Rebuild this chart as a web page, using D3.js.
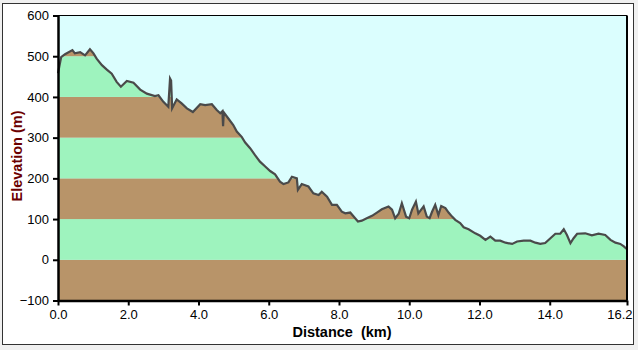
<!DOCTYPE html>
<html><head><meta charset="utf-8">
<script src="https://cdn.jsdelivr.net/npm/d3@7"></script>
<style>body{margin:0;background:#f0f0f0;}svg{display:block;font-family:"Liberation Sans",Arial,sans-serif;}</style>
</head><body>
<svg id="c" width="638" height="350"></svg>
<script>
const distance = [0.00,0.09,0.20,0.41,0.48,0.63,0.77,0.91,1.01,1.10,1.25,1.39,1.53,1.67,1.79,1.96,2.15,2.34,2.53,2.76,2.86,3.00,3.14,3.19,3.22,3.25,3.38,3.52,3.67,3.84,4.05,4.19,4.38,4.52,4.62,4.68,4.70,4.72,4.85,4.99,5.09,5.23,5.33,5.47,5.61,5.75,5.90,6.04,6.18,6.32,6.42,6.56,6.66,6.80,6.83,6.94,7.13,7.27,7.42,7.51,7.66,7.80,7.94,8.08,8.18,8.32,8.46,8.54,8.65,8.79,8.94,9.08,9.22,9.41,9.51,9.60,9.70,9.79,9.91,10.00,10.08,10.19,10.26,10.41,10.50,10.58,10.65,10.74,10.83,10.91,11.03,11.12,11.22,11.31,11.45,11.55,11.69,11.88,12.02,12.17,12.31,12.45,12.59,12.74,12.93,13.07,13.26,13.45,13.59,13.73,13.87,14.02,14.16,14.30,14.40,14.49,14.59,14.68,14.78,15.01,15.20,15.39,15.58,15.73,15.87,16.01,16.11,16.20];
const elevation = [458,498,505,515,507,510,502,517,507,494,478,467,457,437,425,439,435,418,408,402,404,388,376,445,440,372,394,384,372,363,382,380,382,368,360,365,328,362,347,331,315,302,288,274,257,241,229,218,210,192,186,190,204,200,172,186,180,163,159,167,155,135,135,118,114,116,102,94,96,102,108,116,124,131,123,102,113,139,106,102,123,143,114,131,106,102,118,135,110,132,127,116,106,98,90,80,75,65,59,49,57,47,47,42,39,45,47,47,42,39,41,53,64,64,75,61,41,53,64,65,60,64,61,49,42,39,33,26];
const xTicks = [0,2,4,6,8,10,12,14,16.2];
const yTicks = [-100,0,100,200,300,400,500,600];
const bands = [-100,0,100,200,300,400,500];

const svg = d3.select("#c");
svg.append("rect").attr("x",2.5).attr("y",3.5).attr("width",631).attr("height",341)
  .attr("fill","#fff").attr("stroke","#333").attr("stroke-width",1);

const L=58,R=627,T=15.5,B=300.5;
const x = d3.scaleLinear().domain([0,16.2]).range([L,R]);
const y = d3.scaleLinear().domain([-100,600]).range([B,T]);

svg.append("rect").attr("x",L).attr("y",T).attr("width",R-L).attr("height",B-T).attr("fill","#dbfefe");

const pts = distance.map((d,i)=>[d,elevation[i]]);
const area = d3.area().x(d=>x(d[0])).y0(y(-100)).y1(d=>y(d[1]));
svg.append("clipPath").attr("id","cp").append("path").attr("d",area(pts));
svg.append("g").attr("clip-path","url(#cp)").selectAll("rect").data(bands).join("rect")
  .attr("x",L).attr("width",R-L).attr("y",d=>y(d+100)).attr("height",d=>y(d)-y(d+100))
  .attr("fill",(d,i)=>i%2===0?"#b89469":"#9ef3be");

svg.append("path").attr("d",d3.line().x(d=>x(d[0])).y(d=>y(d[1]))(pts))
  .attr("fill","none").attr("stroke","#4a4a4a").attr("stroke-width",2.2).attr("stroke-linejoin","miter");

// frame
svg.append("line").attr("x1",L).attr("x2",R).attr("y1",T).attr("y2",T).attr("stroke","#000").attr("stroke-width",1);
svg.append("line").attr("x1",R).attr("x2",R).attr("y1",T).attr("y2",B).attr("stroke","#000").attr("stroke-width",2);

const xa = svg.append("g").attr("transform",`translate(0,${B})`)
  .call(d3.axisBottom(x).tickValues(xTicks).tickFormat(d3.format(".1f")).tickSize(5).tickSizeOuter(0));
const ya = svg.append("g").attr("transform",`translate(${L},0)`)
  .call(d3.axisLeft(y).tickValues(yTicks).tickFormat(d3.format("d")).tickSize(5).tickSizeOuter(0));
[xa,ya].forEach(g=>{
  g.select(".domain").attr("stroke","#000").attr("stroke-width",2.5);
  g.selectAll(".tick line").attr("stroke","#000").attr("stroke-width",2);
  g.selectAll(".tick text").attr("fill","#000").attr("font-size",13).attr("font-family","'Liberation Sans',Arial,sans-serif");
});
xa.selectAll(".tick text").attr("dy","0.8em");
xa.selectAll(".tick text").filter(d=>d===16.2).attr("text-anchor","end").attr("dx",5);
ya.selectAll(".tick text").attr("dx","-1");

svg.append("text").attr("x",342).attr("y",337).attr("text-anchor","middle")
  .attr("font-size",14.5).attr("font-weight","bold").attr("fill","#000").attr("xml:space","preserve").text("Distance  (km)");
svg.append("text").attr("transform","translate(22,156) rotate(-90)").attr("text-anchor","middle")
  .attr("font-size",14.5).attr("font-weight","bold").attr("fill","#6b0000").text("Elevation (m)");
</script>
</body></html>
